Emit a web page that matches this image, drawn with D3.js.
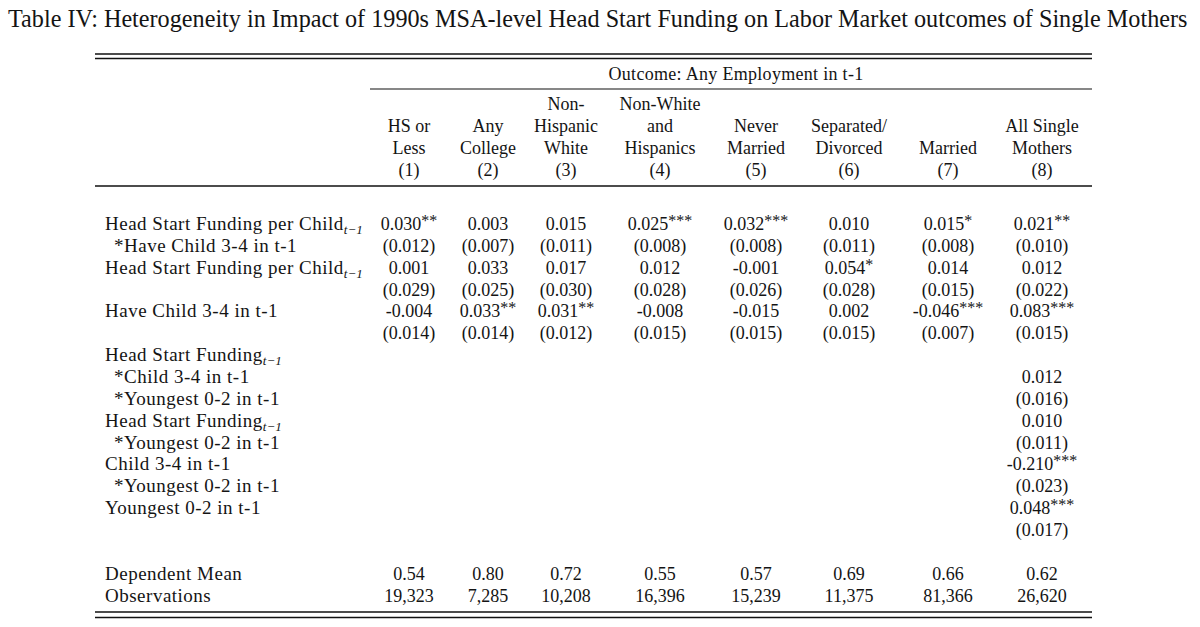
<!DOCTYPE html>
<html>
<head>
<meta charset="utf-8">
<script src="https://cdn.jsdelivr.net/npm/d3@7"></script>
<style>
  body { margin: 0; background: #fff; }
  svg { display: block; }
  text { font-family: "Liberation Serif", "DejaVu Serif", serif; fill: #141414; }
</style>
</head>
<body>
<svg id="board" width="1200" height="627"></svg>
<script>
// Table content
let title = 'Table IV: Heterogeneity in Impact of 1990s MSA-level Head Start Funding on Labor Market outcomes of Single Mothers'
let outcome = 'Outcome: Any Employment in t-1'

let colHeads = [
    ['HS or', 'Less'],
    ['Any', 'College'],
    ['Non-', 'Hispanic', 'White'],
    ['Non-White', 'and', 'Hispanics'],
    ['Never', 'Married'],
    ['Separated/', 'Divorced'],
    ['Married'],
    ['All Single', 'Mothers']
]
let colNums = ['(1)', '(2)', '(3)', '(4)', '(5)', '(6)', '(7)', '(8)']

// row labels: text, subscript, indented
let rowLabels = [
    { text: 'Head Start Funding per Child', sub: 't−1' },
    { text: '*Have Child 3-4 in t-1', indent: true },
    { text: 'Head Start Funding per Child', sub: 't−1' },
    { text: '' },
    { text: 'Have Child 3-4 in t-1' },
    { text: '' },
    { text: 'Head Start Funding', sub: 't−1' },
    { text: '*Child 3-4 in t-1', indent: true },
    { text: '*Youngest 0-2 in t-1', indent: true },
    { text: 'Head Start Funding', sub: 't−1' },
    { text: '*Youngest 0-2 in t-1', indent: true },
    { text: 'Child 3-4 in t-1' },
    { text: '*Youngest 0-2 in t-1', indent: true },
    { text: 'Youngest 0-2 in t-1' },
    { text: '' }
]

// Head Start Funding per Child * Have Child 3-4
let coefA = ['0.030**', '0.003', '0.015', '0.025***', '0.032***', '0.010', '0.015*', '0.021**']
let seA = ['0.012', '0.007', '0.011', '0.008', '0.008', '0.011', '0.008', '0.010']
// Head Start Funding per Child
let coefB = ['0.001', '0.033', '0.017', '0.012', '-0.001', '0.054*', '0.014', '0.012']
let seB = ['0.029', '0.025', '0.030', '0.028', '0.026', '0.028', '0.015', '0.022']
// Have Child 3-4
let coefC = ['-0.004', '0.033**', '0.031**', '-0.008', '-0.015', '0.002', '-0.046***', '0.083***']
let seC = ['0.014', '0.014', '0.012', '0.015', '0.015', '0.015', '0.007', '0.015']
// extra terms, column (8) only
let coefExtra = ['0.012', '0.010', '-0.210***', '0.048***']
let seExtra = ['0.016', '0.011', '0.023', '0.017']

let depMean = ['0.54', '0.80', '0.72', '0.55', '0.57', '0.69', '0.66', '0.62']
let observations = ['19,323', '7,285', '10,208', '16,396', '15,239', '11,375', '81,366', '26,620']

// Layout
let board = d3.select('#board')
let fs = 18
let labelFs = 19
let left = 95, right = 1092, labelX = 105, indentX = 114

let x = d3.scaleOrdinal()
    .domain(d3.range(8))
    .range([409, 488, 566, 660, 756, 849, 948, 1042])

let y = d3.scaleLinear().domain([0, 14]).range([224, 530])
let headY = d3.scaleLinear().domain([0, 3]).range([104, 170])

// build cell grid: rows x 8 columns
let cells = []
let addPair = (row, coefs, ses) => {
    coefs.forEach((c, i) => {
        cells.push({ row: row, col: i, val: c })
        cells.push({ row: row + 1, col: i, val: '(' + ses[i] + ')' })
    })
}
addPair(0, coefA, seA)
addPair(2, coefB, seB)
addPair(4, coefC, seC)
coefExtra.forEach((c, i) => {
    cells.push({ row: 7 + i * 2, col: 7, val: c })
    cells.push({ row: 8 + i * 2, col: 7, val: '(' + seExtra[i] + ')' })
})

// title
board.append('text')
    .attr('x', 8).attr('y', 27)
    .style('font-size', '24.2px')
    .text(title)

// rules
let rule = (y1, x1, x2, w) => {
    board.append('line')
        .attr('x1', x1).attr('x2', x2)
        .attr('y1', y1).attr('y2', y1)
        .attr('stroke', '#111')
        .attr('stroke-width', w)
}
rule(54, left, right, 1.3)
rule(58.5, left, right, 1.3)
rule(89, 370, right, 1.1)
rule(186, left, right, 1.4)
rule(612, left, right, 1.3)
rule(617.5, left, right, 1.3)

// outcome header
board.append('text')
    .attr('x', 736).attr('y', 80)
    .attr('text-anchor', 'middle')
    .style('font-size', fs + 'px')
    .style('letter-spacing', '0.3px')
    .text(outcome)

// column headers, bottom-aligned
colHeads.forEach((lines, i) => {
    lines.forEach((line, j) => {
        board.append('text')
            .attr('x', x(i))
            .attr('y', headY(3 - lines.length + j) + 6)
            .attr('text-anchor', 'middle')
            .style('font-size', fs + 'px')
            .text(line)
    })
    board.append('text')
        .attr('x', x(i))
        .attr('y', headY(3) + 6)
        .attr('text-anchor', 'middle')
        .style('font-size', fs + 'px')
        .text(colNums[i])
})

// row labels
let label = (tx, ty, r) => {
    let t = board.append('text')
        .attr('x', tx)
        .attr('y', ty)
        .style('font-size', labelFs + 'px')
        .style('letter-spacing', '0.5px')
        .text(r.text)
    if (r.sub) {
        t.append('tspan')
            .attr('dy', 4)
            .style('font-size', '13px')
            .style('font-style', 'italic')
            .style('letter-spacing', '0px')
            .text(r.sub)
    }
}
rowLabels.forEach((r, i) => {
    if (!r.text) return
    label(r.indent ? indentX : labelX, y(i) + 6, r)
})

// value cells with superscript stars
let drawCell = (cx, cy, val) => {
    let m = val.match(/^([^*]*)(\**)$/)
    let t = board.append('text')
        .attr('x', cx).attr('y', cy + 6)
        .attr('text-anchor', 'middle')
        .style('font-size', fs + 'px')
    t.append('tspan').text(m[1])
    if (m[2]) {
        t.append('tspan')
            .attr('dy', -4)
            .style('font-size', '16px')
            .text(m[2])
    }
}
cells.forEach(c => drawCell(x(c.col), y(c.row), c.val))

// bottom stats
let statRows = [
    { label: 'Dependent Mean', vals: depMean, y: 574 },
    { label: 'Observations', vals: observations, y: 596 }
]
statRows.forEach(s => {
    label(labelX, s.y + 6, { text: s.label })
    s.vals.forEach((v, i) => drawCell(x(i), s.y, v))
})
</script>
</body>
</html>
